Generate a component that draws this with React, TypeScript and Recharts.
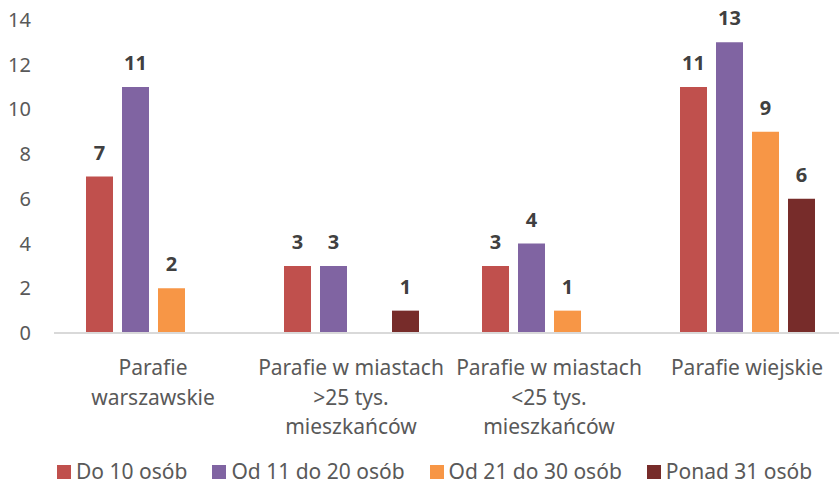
import React from "react";
import { BarChart, Bar, XAxis, YAxis, LabelList, Legend } from "recharts";

const categories = [
  "Parafie\nwarszawskie",
  "Parafie w miastach\n>25 tys.\nmieszkańców",
  "Parafie w miastach\n<25 tys.\nmieszkańców",
  "Parafie wiejskie",
];
const do10 = [7, 3, 3, 11];
const od11do20 = [11, 3, 4, 13];
const od21do30 = [2, null, 1, 9];
const ponad31 = [null, 1, null, 6];
const seriesNames = ["Do 10 osób", "Od 11 do 20 osób", "Od 21 do 30 osób", "Ponad 31 osób"];
const seriesColors = ["#C0504D", "#8064A2", "#F79646", "#772C2A"];
const yTicks = [0, 2, 4, 6, 8, 10, 12, 14];

const data = categories.map((c, i) => ({
  name: c,
  s0: do10[i],
  s1: od11do20[i],
  s2: od21do30[i],
  s3: ponad31[i],
}));

const FONT = "'Noto Sans', 'Open Sans', sans-serif";
const TEXT = "#595959";

const XTick = (props: any) => {
  const { x, y, payload } = props;
  const lines = String(payload.value).split("\n");
  return (
    <g>
      {lines.map((l: string, i: number) => (
        <text
          key={i}
          x={x}
          y={y + 40 + i * 29.5}
          textAnchor="middle"
          fill={TEXT}
          fontSize={21}
          fontFamily={FONT}
        >
          {l}
        </text>
      ))}
    </g>
  );
};

const YTick = (props: any) => {
  const { y, payload } = props;
  return (
    <text x={31} y={y + 7} textAnchor="end" fill={TEXT} fontSize={20} fontFamily={FONT}>
      {payload.value}
    </text>
  );
};

const BarLabel = (props: any) => {
  const { x, y, width, value } = props;
  if (value === null || value === undefined) return null;
  return (
    <text
      x={x + width / 2}
      y={y - 17}
      textAnchor="middle"
      fill="#404040"
      fontSize={20}
      fontWeight="bold"
      fontFamily={FONT}
    >
      {value}
    </text>
  );
};

const LegendContent = () => (
  <div
    style={{
      height: 40,
      boxSizing: "border-box",
      paddingTop: 15,
      paddingLeft: 57,
      display: "flex",
      alignItems: "flex-start",
      fontFamily: FONT,
      fontSize: 21,
      color: TEXT,
      lineHeight: "20px",
      whiteSpace: "nowrap",
    }}
  >
    {seriesNames.map((n, i) => (
      <div key={n} style={{ display: "flex", alignItems: "center", marginRight: 25, height: 20 }}>
        <div style={{ width: 14, height: 14, background: seriesColors[i], marginRight: 5, marginTop: 2 }} />
        <span style={{ lineHeight: "20px" }}>{n}</span>
      </div>
    ))}
  </div>
);

export default function App() {
  return (
    <div
      style={{
        position: "fixed",
        left: 0,
        top: 0,
        width: 839,
        height: 486,
        overflow: "hidden",
        background: "#fff",
      }}
    >
      <BarChart
        width={850}
        height={486}
        data={data}
        margin={{ top: 20, right: 4, bottom: 0, left: 0 }}
        barSize={27}
        barGap={9}
      >
        <XAxis
          dataKey="name"
          tick={<XTick />}
          tickLine={false}
          tickSize={0}
          axisLine={{ stroke: "#D9D9D9", strokeWidth: 2 }}
          height={113}
          interval={0}
        />
        <YAxis
          domain={[0, 14]}
          ticks={yTicks}
          tick={<YTick />}
          tickLine={false}
          axisLine={false}
          width={54}
          interval={0}
        />
        <Legend
          verticalAlign="bottom"
          content={<LegendContent />}
          wrapperStyle={{ height: 40, left: 0, width: 839 }}
        />
        {["s0", "s1", "s2", "s3"].map((k, i) => (
          <Bar key={k} dataKey={k} name={seriesNames[i]} fill={seriesColors[i]} isAnimationActive={false}>
            <LabelList dataKey={k} content={<BarLabel />} />
          </Bar>
        ))}
      </BarChart>
    </div>
  );
}
